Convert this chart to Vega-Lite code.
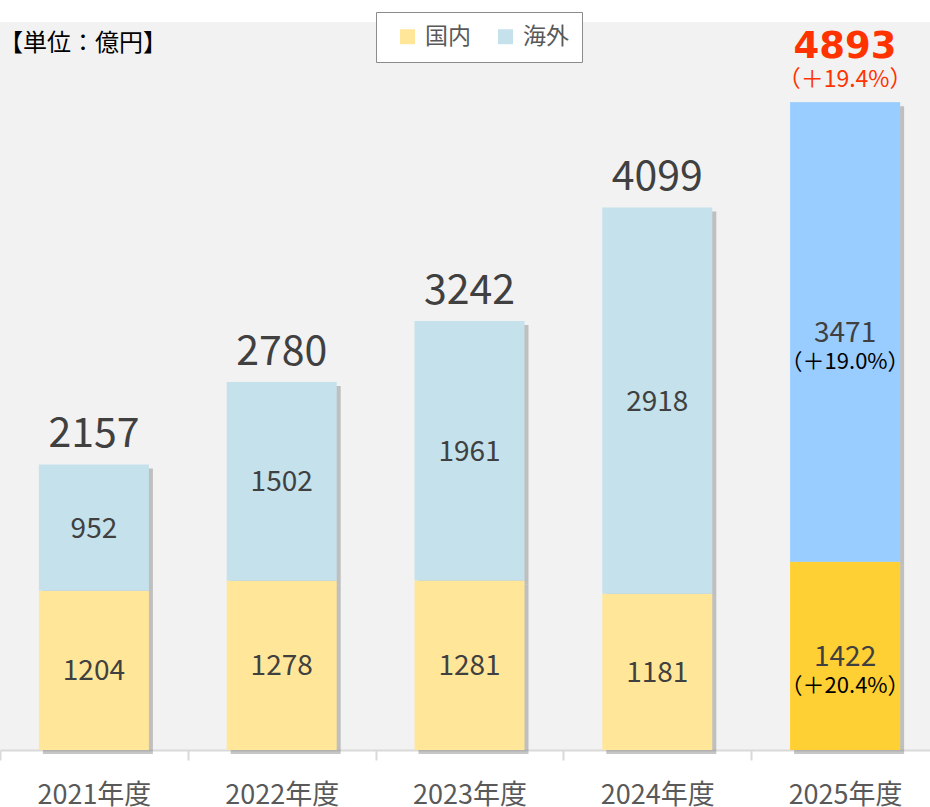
{
  "$schema": "https://vega.github.io/schema/vega-lite/v6.json",
  "autosize": {"type": "none"},
  "padding": {"top": 22, "left": 0, "right": 0, "bottom": 57},
  "width": 930,
  "height": 728,
  "background": "white",
  "config": {
    "view": {"stroke": null, "fill": "#f2f2f2"},
    "font": "Noto Sans CJK JP"
  },
  "title": {
    "text": "【単位：億円】",
    "anchor": "start",
    "frame": "group",
    "orient": "top",
    "offset": -23,
    "baseline": "middle",
    "fontSize": 24,
    "fontWeight": "normal",
    "color": "#000000",
    "font": "Noto Sans CJK JP",
    "dx": -1,
    "dy": 33
  },
  "datasets": {
    "seg": [
      {"year": "2021年度", "seg": "国内", "value": 1204, "ord": 1, "fill": "#ffe699", "pct": ""},
      {"year": "2021年度", "seg": "海外", "value": 952, "ord": 2, "fill": "#c4e1ec", "pct": ""},
      {"year": "2022年度", "seg": "国内", "value": 1278, "ord": 1, "fill": "#ffe699", "pct": ""},
      {"year": "2022年度", "seg": "海外", "value": 1502, "ord": 2, "fill": "#c4e1ec", "pct": ""},
      {"year": "2023年度", "seg": "国内", "value": 1281, "ord": 1, "fill": "#ffe699", "pct": ""},
      {"year": "2023年度", "seg": "海外", "value": 1961, "ord": 2, "fill": "#c4e1ec", "pct": ""},
      {"year": "2024年度", "seg": "国内", "value": 1181, "ord": 1, "fill": "#ffe699", "pct": ""},
      {"year": "2024年度", "seg": "海外", "value": 2918, "ord": 2, "fill": "#c4e1ec", "pct": ""},
      {"year": "2025年度", "seg": "国内", "value": 1422, "ord": 1, "fill": "#ffd033", "pct": "（＋20.4%）"},
      {"year": "2025年度", "seg": "海外", "value": 3471, "ord": 2, "fill": "#99ccff", "pct": "（＋19.0%）"}
    ],
    "tot": [
      {"year": "2021年度", "total": 2157, "pct": ""},
      {"year": "2022年度", "total": 2780, "pct": ""},
      {"year": "2023年度", "total": 3242, "pct": ""},
      {"year": "2024年度", "total": 4099, "pct": ""},
      {"year": "2025年度", "total": 4893, "pct": "（＋19.4%）"}
    ]
  },
  "encoding": {
    "x": {
      "field": "year",
      "type": "nominal",
      "sort": null,
      "scale": {"range": [0, 939], "paddingInner": 0, "paddingOuter": 0},
      "axis": {
        "title": null,
        "labelAngle": 0,
        "labelFontSize": 27,
        "labelColor": "#595959",
        "labelFont": "Noto Sans CJK JP",
        "labelPadding": 22,
        "domainColor": "#d9d9d9",
        "domainWidth": 2,
        "tickColor": "#d9d9d9",
        "tickWidth": 2,
        "tickSize": 10,
        "tickBand": "extent"
      }
    }
  },
  "layer": [
    {
      "data": {"name": "seg"},
      "mark": {"type": "bar", "width": 110, "color": "#808080", "opacity": 0.45, "xOffset": 4, "yOffset": 4},
      "encoding": {
        "y": {"field": "value", "type": "quantitative", "stack": "zero", "scale": {"domain": [0, 5500], "nice": false}, "axis": null},
        "order": {"field": "ord"}
      }
    },
    {
      "data": {"name": "seg"},
      "mark": {"type": "bar", "width": 110},
      "encoding": {
        "y": {"field": "value", "type": "quantitative", "stack": "zero"},
        "order": {"field": "ord"},
        "color": {
          "field": "seg",
          "type": "nominal",
          "scale": {"domain": ["国内", "海外"], "range": ["#ffe699", "#c4e1ec"]},
          "legend": {
            "orient": "none",
            "legendX": 376,
            "legendY": -10,
            "direction": "horizontal",
            "title": null,
            "fillColor": "white",
            "strokeColor": "#8c8c8c",
            "padding": 13,
            "symbolType": "square",
            "symbolSize": 225,
            "symbolStrokeWidth": 0,
            "symbolOffset": 7,
            "labelFontSize": 23,
            "labelColor": "#595959",
            "labelFont": "Noto Sans CJK JP",
            "labelOffset": 6,
            "columnPadding": 16
          }
        }
      }
    },
    {
      "data": {"name": "seg"},
      "transform": [{"filter": "datum.year === '2025年度'"}],
      "mark": {"type": "bar", "width": 110},
      "encoding": {
        "y": {"field": "value", "type": "quantitative", "stack": "zero"},
        "order": {"field": "ord"},
        "color": {"field": "fill", "type": "nominal", "scale": null}
      }
    },
    {
      "data": {"name": "seg"},
      "mark": {"type": "text", "fontSize": 28, "color": "#404040", "baseline": "middle", "dy": 2},
      "encoding": {
        "y": {"field": "value", "type": "quantitative", "stack": "zero", "bandPosition": 0.5},
        "order": {"field": "ord"},
        "text": {"field": "value", "type": "quantitative", "format": "d"}
      }
    },
    {
      "data": {"name": "seg"},
      "transform": [{"filter": "datum.year === '2025年度'"}],
      "mark": {"type": "text", "fontSize": 22, "color": "#000000", "baseline": "middle", "dy": 30},
      "encoding": {
        "y": {"field": "value", "type": "quantitative", "stack": "zero", "bandPosition": 0.5},
        "order": {"field": "ord"},
        "text": {"field": "pct", "type": "nominal"}
      }
    },
    {
      "data": {"name": "tot"},
      "transform": [{"filter": "datum.year !== '2025年度'"}],
      "mark": {"type": "text", "fontSize": 41, "color": "#404040", "baseline": "middle", "dy": -29},
      "encoding": {
        "y": {"field": "total", "type": "quantitative"},
        "text": {"field": "total", "type": "quantitative", "format": "d"}
      }
    },
    {
      "data": {"name": "tot"},
      "transform": [{"filter": "datum.year === '2025年度'"}],
      "mark": {"type": "text", "fontSize": 37, "fontWeight": "bold", "font": "DejaVu Sans", "color": "#ff3300", "baseline": "middle", "dy": -55},
      "encoding": {
        "y": {"field": "total", "type": "quantitative"},
        "text": {"field": "total", "type": "quantitative", "format": "d"}
      }
    },
    {
      "data": {"name": "tot"},
      "transform": [{"filter": "datum.year === '2025年度'"}],
      "mark": {"type": "text", "fontSize": 23, "color": "#ff3300", "baseline": "middle", "dy": -22},
      "encoding": {
        "y": {"field": "total", "type": "quantitative"},
        "text": {"field": "pct", "type": "nominal"}
      }
    }
  ]
}
